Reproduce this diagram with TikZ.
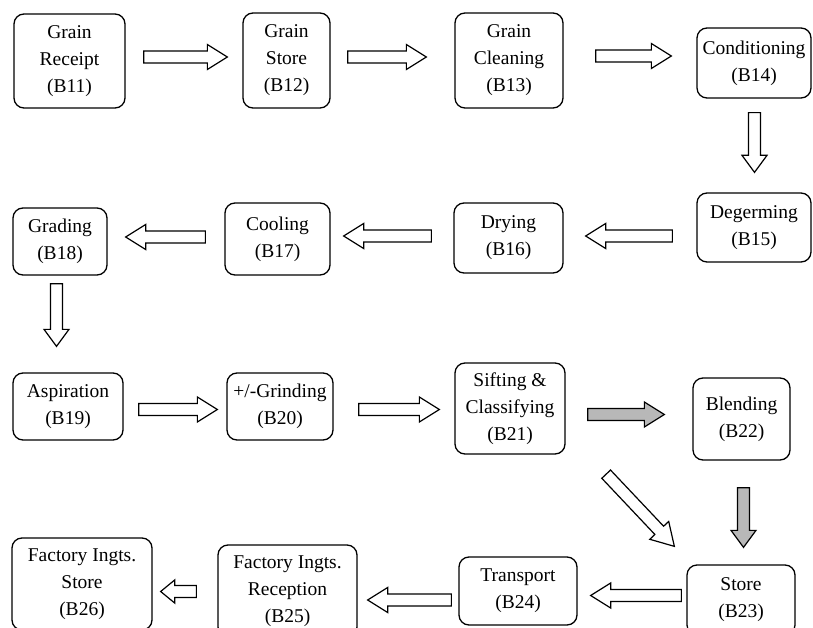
\documentclass[tikz,border=0pt]{standalone}
\usepackage{fontspec}
\setmainfont{Liberation Serif}
\newfontfamily\stagefont{Liberation Serif}
\usetikzlibrary{calc}

% block-arrow geometry (half shaft width, half head width, head length)
\tikzset{
  ba shaft/.code={\def\bashaft{#1}},
  ba head/.code={\def\bahead{#1}},
  ba len/.code={\def\balen{#1}},
  ba shaft=6pt, ba head=12.5pt, ba len=20pt,
  stage/.style={draw, line width=1.3pt, rounded corners=10pt, align=center,
    inner sep=0pt, font=\stagefont\fontsize{19.5}{27}\selectfont},
  arrowbody/.style={draw, line width=1.2pt, fill=white, line join=miter},
  shaded/.style={fill=black!28},
}

% hollow block arrow from #2 to #3 (tip at #3)
\newcommand\blockarrow[3][]{%
  \begin{scope}[#1]
    \path #2 coordinate (ba s) #3 coordinate (ba t);
    \path ($(ba t)!\balen!(ba s)$) coordinate (ba m);
    \draw[arrowbody,#1]
      ($(ba s)!\bashaft!90:(ba t)$) -- ($(ba m)!\bashaft!-90:(ba s)$)
      -- ($(ba m)!\bahead!-90:(ba s)$) -- (ba t)
      -- ($(ba m)!\bahead!90:(ba s)$) -- ($(ba m)!\bashaft!90:(ba s)$)
      -- ($(ba s)!\bashaft!-90:(ba t)$) -- cycle;
  \end{scope}}

\begin{document}
\begin{tikzpicture}[x=1pt,y=-1pt]
\useasboundingbox (0,0) rectangle (813,628);
\clip (0,0) rectangle (813,628);

% process stages
\node[stage, minimum width=111pt, minimum height=94pt] (b11) at (69.5,61) {Grain\\Receipt\\(B11)};
\node[stage, minimum width=87pt,  minimum height=95pt] (b12) at (286.5,60.5) {Grain\\Store\\(B12)};
\node[stage, minimum width=108pt, minimum height=95pt] (b13) at (509,60.5) {Grain\\Cleaning\\(B13)};
\node[stage, minimum width=114pt, minimum height=70pt] (b14) at (754,63) {Conditioning\\(B14)};
\node[stage, minimum width=114pt, minimum height=69pt] (b15) at (754,227.5) {Degerming\\(B15)};
\node[stage, minimum width=109pt, minimum height=70pt] (b16) at (508.5,238) {Drying\\(B16)};
\node[stage, minimum width=105pt, minimum height=72pt] (b17) at (277.5,239) {Cooling\\(B17)};
\node[stage, minimum width=94pt,  minimum height=67pt] (b18) at (60,241.5) {Grading\\(B18)};
\node[stage, minimum width=110pt, minimum height=67pt] (b19) at (68,406.5) {Aspiration\\(B19)};
\node[stage, minimum width=106pt, minimum height=67pt] (b20) at (280,406.5) {+/-Grinding\\(B20)};
\node[stage, minimum width=110pt, minimum height=91pt] (b21) at (510,408.5) {Sifting \&\\Classifying\\(B21)};
\node[stage, minimum width=97pt,  minimum height=82pt] (b22) at (741.5,419) {Blending\\(B22)};
\node[stage, minimum width=108pt, minimum height=70pt] (b23) at (741,600) {Store\\(B23)};
\node[stage, minimum width=118pt, minimum height=68pt] (b24) at (518,591) {Transport\\(B24)};
\node[stage, minimum width=139pt, minimum height=92pt] (b25) at (287.5,591) {Factory Ingts.\\Reception\\(B25)};
\node[stage, minimum width=140pt, minimum height=92pt] (b26) at (82,584) {Factory Ingts.\\Store\\(B26)};

% flow arrows
\blockarrow{($(b11.east)+(18,-4)$)}{($(b12.west)+(-15,-3.5)$)}
\blockarrow{($(b12.east)+(17,-3.5)$)}{($(b13.west)+(-28,-3.5)$)}
\blockarrow{($(b13.east)+(32,-4.5)$)}{($(b14.west)+(-25,-7)$)}
\blockarrow[ba len=17pt]{($(b14.south)+(0.5,14)$)}{($(b15.north)+(0.5,-20)$)}
\blockarrow{($(b15.west)+(-24,8.5)$)}{($(b16.east)+(22,-2)$)}
\blockarrow{($(b16.west)+(-22,-2)$)}{($(b17.east)+(13,-3)$)}
\blockarrow{($(b17.west)+(-19,-2)$)}{($(b18.east)+(18,-4.5)$)}
\blockarrow[ba len=17pt]{($(b18.south)+(-3.5,8)$)}{($(b19.north)+(-11.5,-26)$)}
\blockarrow{($(b19.east)+(15,3)$)}{($(b20.west)+(-9,3)$)}
\blockarrow{($(b20.east)+(25,3)$)}{($(b21.west)+(-15,1)$)}
\blockarrow[shaded]{($(b21.east)+(22,6)$)}{($(b22.west)+(-28,-4.5)$)}
\blockarrow[ba head=13pt, ba len=22pt]{($(b21.south east)+(40.5,19.5)$)}{($(b23.north west)+(-12,-18)$)}
\blockarrow[shaded, ba len=17pt]{($(b22.south)+(2,27)$)}{($(b23.north)+(2.5,-17)$)}
\blockarrow{($(b23.west)+(-5,-4.5)$)}{($(b24.east)+(13,4.5)$)}
\blockarrow{($(b24.west)+(-7,9)$)}{($(b25.east)+(10,9)$)}
\blockarrow[ba head=11.5pt, ba len=14pt]{($(b25.west)+(-21,0.5)$)}{($(b26.east)+(8,7.5)$)}
\end{tikzpicture}
\end{document}
